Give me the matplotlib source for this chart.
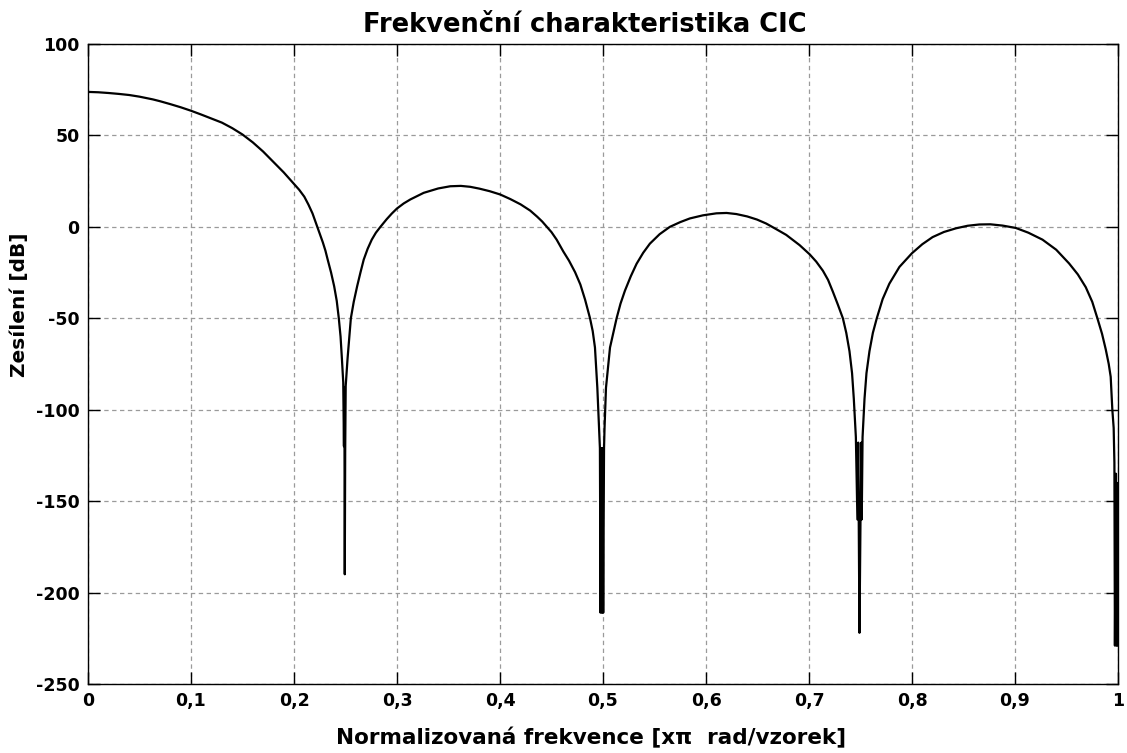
import matplotlib
matplotlib.use("Agg")
import matplotlib.pyplot as plt

# Normalised frequency (x pi rad/sample) and gain (dB)
freq = [
    0.000, 0.010, 0.020, 0.030, 0.040, 0.050, 0.063, 0.070, 0.080, 0.090,
    0.100, 0.110, 0.120, 0.130, 0.140, 0.150, 0.160, 0.170, 0.180, 0.190,
    0.200, 0.205, 0.210, 0.214, 0.218, 0.2226, 0.2255, 0.228, 0.2305, 0.2327,
    0.236, 0.239, 0.2415, 0.2435, 0.2452, 0.2465, 0.2478,
    0.2485, 0.2489, 0.2493, 0.2497, 0.2502,
    0.2520, 0.2537, 0.2552, 0.2580, 0.2613, 0.2645, 0.2677, 0.2715, 0.2755,
    0.2795, 0.2839, 0.2900, 0.2950, 0.2999, 0.3065, 0.3130, 0.3259, 0.3400,
    0.3517, 0.3620, 0.3711, 0.3800, 0.3900, 0.4002, 0.4100, 0.4200, 0.4293,
    0.4360, 0.4410, 0.4455, 0.4500, 0.4550, 0.4615, 0.4670, 0.4729, 0.4780,
    0.4826, 0.4874, 0.4900, 0.4922, 0.4945, 0.4962,
    0.4970, 0.4976, 0.4984, 0.4990, 0.4996, 0.5002, 0.5010,
    0.5015, 0.5029, 0.5068, 0.5132, 0.5170, 0.5213, 0.5270, 0.5326, 0.5390,
    0.5455, 0.5550, 0.5649, 0.5750, 0.5843, 0.5970, 0.6101, 0.6200, 0.6295,
    0.6400, 0.6495, 0.6585, 0.6680, 0.6779, 0.6909, 0.7006, 0.7070, 0.7135,
    0.7185, 0.7232, 0.7280, 0.7329, 0.7362, 0.7393, 0.7418, 0.7435,
    0.7455, 0.7470, 0.7478, 0.7490, 0.7500, 0.7508, 0.7512, 0.7520,
    0.7539, 0.7558, 0.7587, 0.7620, 0.7658, 0.7715, 0.7780, 0.7878, 0.8000,
    0.8100, 0.8200, 0.8310, 0.8427, 0.8540, 0.8653, 0.8760, 0.8879, 0.9008,
    0.9130, 0.9267, 0.9400, 0.9525, 0.9610, 0.9687, 0.9750, 0.9800, 0.9845,
    0.9881, 0.9910, 0.9929, 0.9945, 0.9958, 0.9965,
    0.9970, 0.9980, 0.9985, 0.9990, 0.9995, 1.0000,
]
gain_db = [
    73.8, 73.6, 73.2, 72.7, 72.1, 71.2, 69.7, 68.7, 67.1, 65.4,
    63.5, 61.4, 59.2, 57.0, 54.0, 50.5, 46.2, 41.2, 35.5, 29.8,
    23.5, 20.3, 16.5, 12.2, 7.3, 0.0, -4.5, -8.5, -13.0, -17.9,
    -25.0, -32.5, -40.5, -50.0, -60.0, -72.0, -85.0,
    -120.0, -88.0, -190.0, -123.0, -87.0,
    -72.0, -60.0, -50.0, -41.0, -32.5, -25.0, -17.9, -12.0, -7.0,
    -3.2, 0.0, 4.2, 7.3, 10.0, 12.8, 15.0, 18.6, 21.0,
    22.2, 22.4, 21.9, 20.9, 19.5, 17.7, 15.2, 12.3, 8.9,
    5.6, 2.9, 0.0, -2.9, -7.0, -13.5, -18.5, -24.8, -31.5,
    -39.8, -50.0, -57.0, -66.0, -88.0, -110.0,
    -121.0, -211.0, -121.0, -211.0, -121.0, -211.0, -121.0,
    -110.0, -88.0, -66.0, -50.0, -42.0, -34.9, -27.0, -20.2, -14.2,
    -9.2, -4.0, 0.0, 2.6, 4.6, 6.3, 7.4, 7.6, 7.0,
    5.7, 4.0, 1.8, -1.2, -4.4, -10.0, -15.0, -19.0, -24.0,
    -29.0, -35.5, -42.5, -50.0, -58.0, -68.0, -80.0, -94.0,
    -115.0, -160.0, -118.0, -222.0, -160.0, -118.0, -160.0, -115.0,
    -94.0, -80.0, -68.0, -58.0, -50.0, -39.5, -31.1, -21.9, -14.4,
    -9.5, -5.6, -2.8, -0.8, 0.6, 1.3, 1.4, 0.7, -0.6,
    -3.2, -7.0, -12.5, -20.0, -26.0, -33.0, -41.0, -50.0, -58.5,
    -67.0, -75.0, -82.0, -100.0, -110.0, -129.0,
    -229.0, -135.0, -229.0, -140.0, -229.0, -229.0,
]

x_ticks = [0.0, 0.1, 0.2, 0.3, 0.4, 0.5, 0.6, 0.7, 0.8, 0.9, 1.0]
x_tick_labels = ["0", "0,1", "0,2", "0,3", "0,4", "0,5", "0,6", "0,7", "0,8", "0,9", "1"]
y_ticks = [100, 50, 0, -50, -100, -150, -200, -250]
y_tick_labels = ["100", "50", "0", "-50", "-100", "-150", "-200", "-250"]

title = "Frekvenční charakteristika CIC"
x_label = "Normalizovaná frekvence [xπ  rad/vzorek]"
y_label = "Zesílení [dB]"

plt.rcParams["font.family"] = ["DejaVu Sans"]
plt.rcParams["font.weight"] = "bold"

fig = plt.figure(figsize=(11.27, 7.53), dpi=100)
ax = fig.add_axes([88 / 1127, 1 - 684 / 753, (1118 - 88) / 1127, (684 - 44) / 753])

ax.plot(freq, gain_db, color="black", linewidth=1.6, solid_joinstyle="round")

ax.set_xlim(0, 1)
ax.set_ylim(-250, 100)
ax.set_xticks(x_ticks)
ax.set_xticklabels(x_tick_labels, fontsize=12.5, fontweight="bold")
ax.set_yticks(y_ticks)
ax.set_yticklabels(y_tick_labels, fontsize=12.5, fontweight="bold")

ax.tick_params(direction="in", length=8.5, width=1.0, top=True, right=True,
               colors="black", pad=6)
for sp in ax.spines.values():
    sp.set_linewidth(1.0)
    sp.set_color("black")

ax.grid(True, color="#9a9a9a", linestyle=(0, (3.5, 2.8)), linewidth=0.9)

ax.set_title(title, fontsize=18.5, fontweight="bold", pad=9, x=0.4825)
ax.set_xlabel(x_label, fontsize=15.5, fontweight="bold")
ax.xaxis.set_label_coords(0.488, -0.067, transform=ax.transAxes)
ax.xaxis.label.set_va("top")
ax.set_ylabel(y_label, fontsize=14.5, fontweight="bold", labelpad=5)
ax.yaxis.label.set_y(0.592)

fig.savefig("out.png", dpi=100, facecolor="white")
